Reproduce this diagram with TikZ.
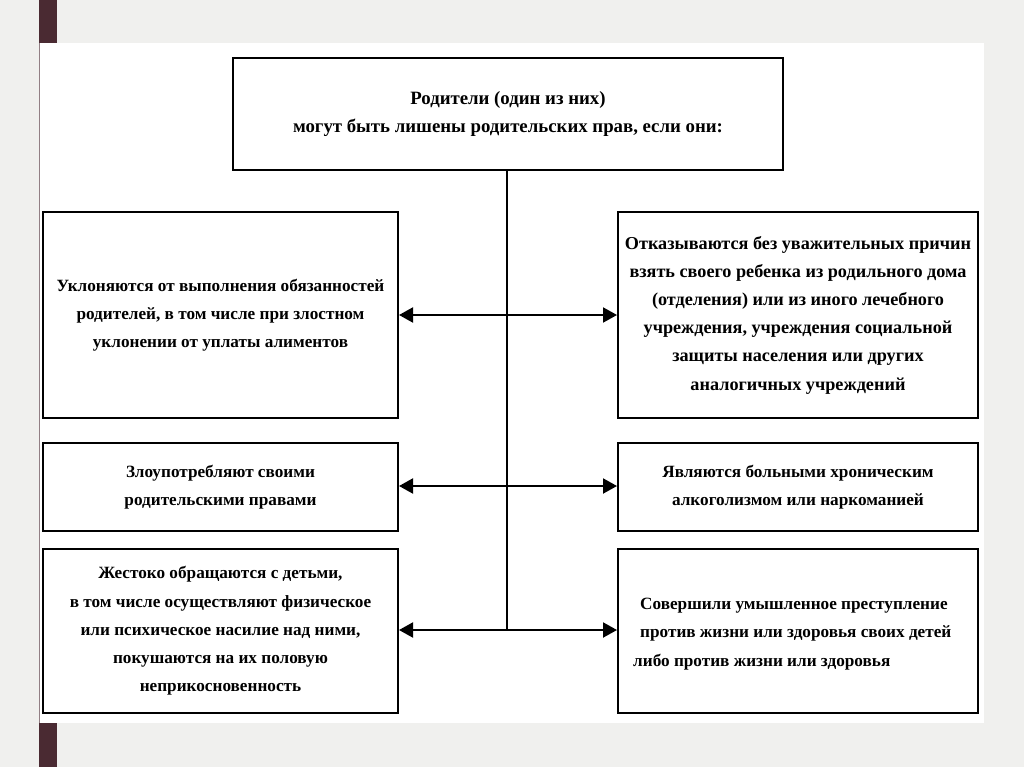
\documentclass[tikz,border=0pt]{standalone}
\usepackage{fontspec}
\setmainfont{Liberation Serif}
\usetikzlibrary{arrows.meta}
\definecolor{pagebg}{HTML}{F0F0EE}
\definecolor{barcol}{HTML}{4A2A32}
\begin{document}
\begin{tikzpicture}[x=1pt,y=-1pt,
  box/.style={draw, line width=2pt, inner sep=0pt, align=center,
    font=\bfseries\fontsize{17.2}{28.2}\selectfont},
  conn/.style={line width=2pt},
  arr/.style={line width=2pt, -{Triangle[length=14pt,width=15pt]}}]
\useasboundingbox (0,0) rectangle (1024,767);
\fill[pagebg] (0,0) rectangle (1024,767);
\fill[white] (39,43) rectangle (984,723);
\draw[barcol!60, line width=0.8pt] (39.4,43) -- (39.4,723);
\fill[barcol] (39,0) rectangle (57,43);
\fill[barcol] (39,723) rectangle (57,767);
% boxes
\node[box, minimum width=550pt, minimum height=112pt,
  font=\bfseries\fontsize{18.8}{28.2}\selectfont] (top) at (508,114)
  {Родители (один из них)\\могут быть лишены родительских прав, если они:};
\node[box, minimum width=355pt, minimum height=206pt] (l1) at (220.5,315)
  {Уклоняются от выполнения обязанностей\\родителей, в том числе при злостном\\уклонении от уплаты алиментов};
\node[box, minimum width=360pt, minimum height=206pt,
  font=\bfseries\fontsize{18.2}{28.2}\selectfont] (r1) at (798,315)
  {Отказываются без уважительных причин\\взять своего ребенка из родильного дома\\(отделения) или из иного лечебного\\учреждения, учреждения социальной\\защиты населения или других\\аналогичных учреждений};
\node[box, minimum width=355pt, minimum height=88pt] (l2) at (220.5,487)
  {Злоупотребляют своими\\родительскими правами};
\node[box, minimum width=360pt, minimum height=88pt] (r2) at (798,487)
  {Являются больными хроническим\\алкоголизмом или наркоманией};
\node[box, minimum width=355pt, minimum height=164pt] (l3) at (220.5,631)
  {Жестоко обращаются с детьми,\\в том числе осуществляют физическое\\или психическое насилие над ними,\\покушаются на их половую\\неприкосновенность};
\node[box, minimum width=360pt, minimum height=164pt] (r3) at (798,631) {};
\node[align=left, inner sep=0pt, anchor=west,
  font=\bfseries\fontsize{17.2}{28.2}\selectfont] (r3text) at (633,634)
  {\hspace*{7pt}Совершили умышленное преступление\\\hspace*{7pt}против жизни или здоровья своих детей\\либо против жизни или здоровья};
% connectors
\coordinate (j1) at (507,315);
\coordinate (j2) at (507,486);
\coordinate (j3) at (507,630);
\draw[conn] (top.south -| j1) -- (j3);
\draw[arr] (j1) -- (l1.east |- j1);
\draw[arr] (j1) -- (r1.west |- j1);
\draw[arr] (j2) -- (l2.east |- j2);
\draw[arr] (j2) -- (r2.west |- j2);
\draw[arr] (j3) -- (l3.east |- j3);
\draw[arr] (j3) -- (r3.west |- j3);
\end{tikzpicture}
\end{document}
